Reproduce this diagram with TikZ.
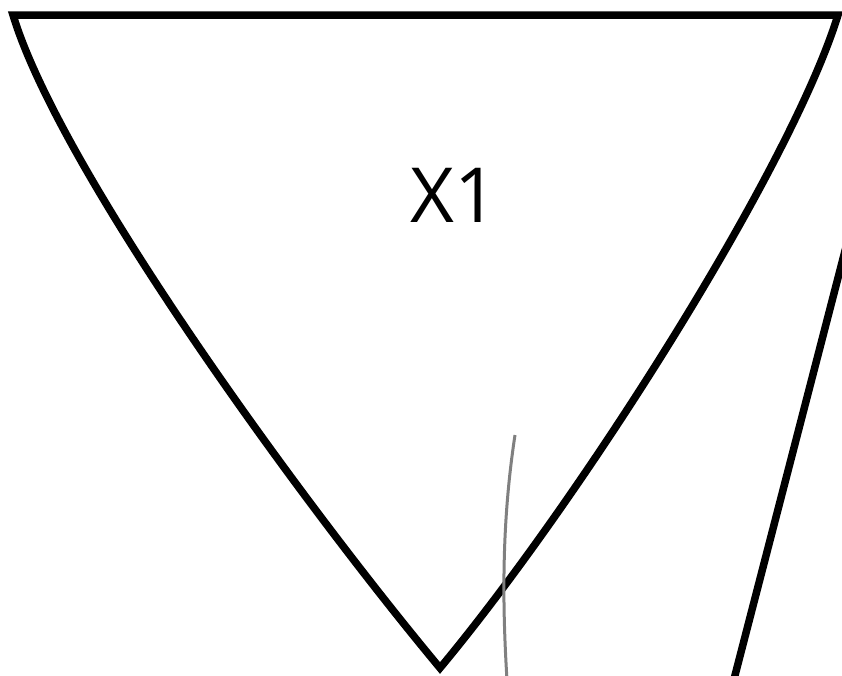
\documentclass[tikz,border=0pt]{standalone}
\usepackage{fontspec}
\setmainfont{Open Sans}
\usepackage{tikz}
\usetikzlibrary{calc}

\begin{document}
\begin{tikzpicture}[
    x=1pt,y=-1pt,
    outline/.style={draw=black,line width=7.5pt,miter limit=10},
    thread/.style={draw=black!50,line width=3pt},
    label/.style={font=\fontsize{76}{80}\selectfont,inner sep=0pt},
]
    \useasboundingbox (0,0) rectangle (842,675);

    \coordinate (tl) at (13,15);
    \coordinate (tr) at (838,15);
    \coordinate (tip) at (440,668);
    \draw[outline] (tl) -- (tr)
        .. controls (790,170) and (580,500) .. (tip)
        .. controls (300,500) and (60,170) .. cycle;
    \node[label] (x1) at (454,195) {X1};

    \coordinate (g1) at (515,435);
    \coordinate (g2) at (507,680);
    \draw[thread] (g1) .. controls (502,520) and (502,600) .. (g2);

    \coordinate (b1) at (846,247);
    \coordinate (b2) at (733,683);
    \draw[outline] (b1) -- (b2);
\end{tikzpicture}
\end{document}
